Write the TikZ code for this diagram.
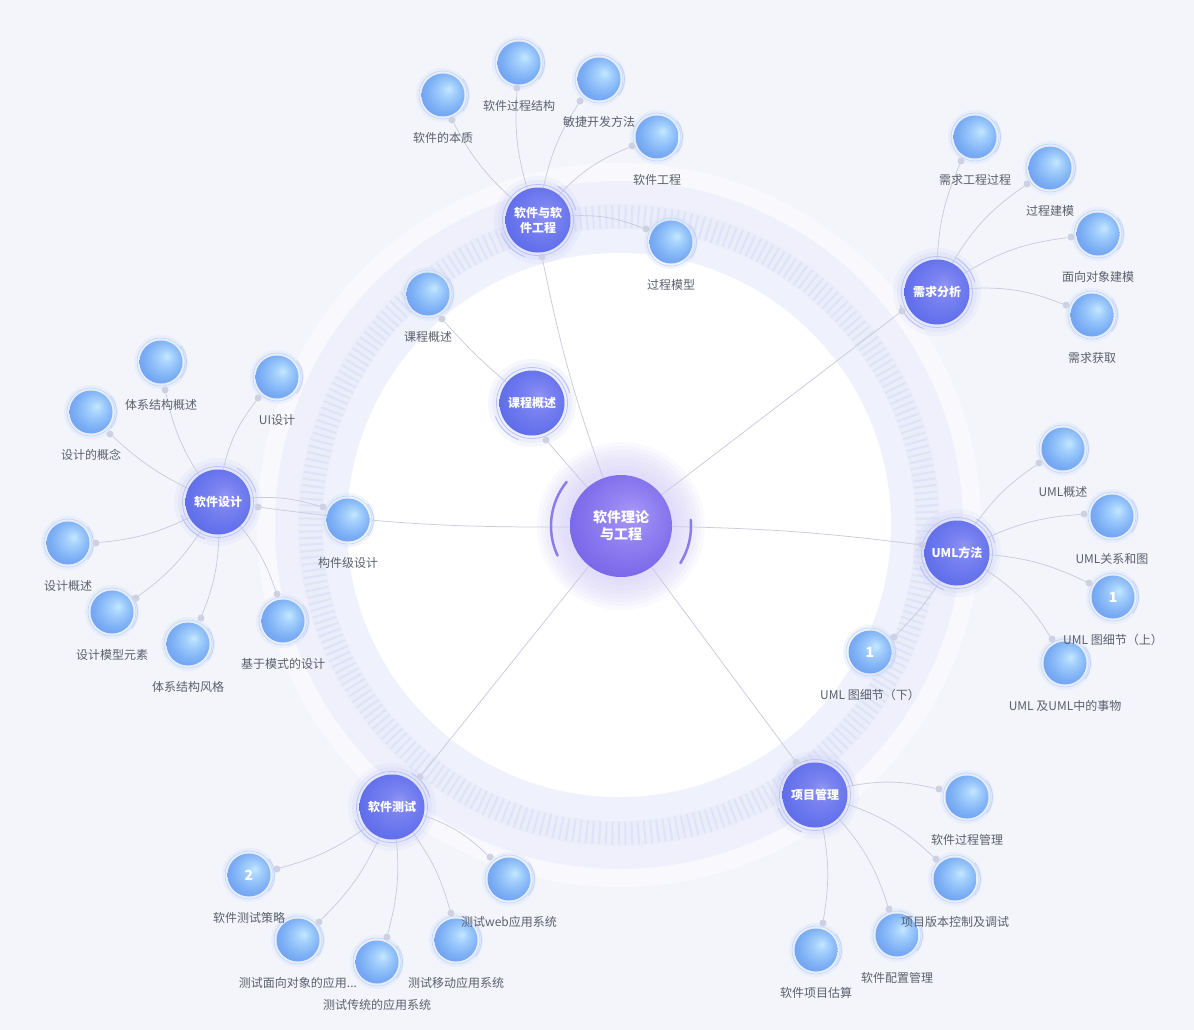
\documentclass[tikz,border=0pt]{standalone}
\usepackage{fontspec}
\newfontfamily\cjk{Noto Sans CJK SC}
\usetikzlibrary{calc}
\definecolor{bgc}{HTML}{F4F5FB}
\definecolor{wband}{HTML}{F9F9FD}
\definecolor{bandout}{HTML}{EFF0FB}
\definecolor{bandtick}{HTML}{EBEDFA}
\definecolor{bandin}{HTML}{EFF1FC}
\definecolor{tickc}{HTML}{E0E3F7}
\definecolor{linkc}{HTML}{C9CCDD}
\definecolor{dotc}{HTML}{CDD1E1}
\definecolor{lblc}{HTML}{5B5F6B}
\definecolor{hubringc}{HTML}{BCC4F6}
\definecolor{hubglowc}{HTML}{C5CBF7}
\definecolor{leafringc}{HTML}{C3D6F8}
\definecolor{leafglowc}{HTML}{D3E2FB}
\definecolor{carcc}{HTML}{8B7CE9}
\definecolor{glowc}{HTML}{D6CFFA}
\definecolor{lf0}{HTML}{C6E8FF}
\definecolor{lf1}{HTML}{A8D3FD}
\definecolor{lf2}{HTML}{80B2F6}
\definecolor{lf3}{HTML}{6A9CF0}
\definecolor{hb0}{HTML}{9095F4}
\definecolor{hb1}{HTML}{7B83F1}
\definecolor{hb2}{HTML}{6673EC}
\definecolor{hb3}{HTML}{5A68E8}
\definecolor{cc0}{HTML}{A899F7}
\definecolor{cc1}{HTML}{9483F2}
\definecolor{cc2}{HTML}{7D6BEA}
\definecolor{cc3}{HTML}{7060E4}
\pgfdeclareradialshading{leafshade}{\pgfpoint{7bp}{7bp}}{color(0bp)=(lf0); color(7bp)=(lf1); color(21bp)=(lf2); color(33bp)=(lf3); color(50bp)=(lf3)}
\pgfdeclareradialshading{hubshade}{\pgfpoint{6bp}{5bp}}{color(0bp)=(hb0); color(9bp)=(hb1); color(23bp)=(hb2); color(33bp)=(hb3); color(50bp)=(hb3)}
\pgfdeclareradialshading{censhade}{\pgfpoint{6bp}{6bp}}{color(0bp)=(cc0); color(11bp)=(cc1); color(26bp)=(cc2); color(34bp)=(cc3); color(50bp)=(cc3)}
\pgfdeclarelayer{bg}
\pgfdeclarelayer{lk}
\pgfdeclarelayer{top}
\pgfsetlayers{bg,lk,main,top}
% hub: name, x, y, text
\newcommand\hubnode[4]{%
  \begin{pgfonlayer}{bg}
    \fill[hubglowc, opacity=0.15] (#2,#3) circle (44pt);
    \fill[hubglowc, opacity=0.2] (#2,#3) circle (40pt);
  \end{pgfonlayer}
  \draw[hubringc, line width=0.8pt] (#2,#3) circle (35.5pt);
  \draw[hubringc, line width=1pt] ([shift={(15:39pt)}]#2,#3) arc[start angle=15, end angle=60, radius=39pt];
  \draw[hubringc, line width=1pt] ([shift={(200:39pt)}]#2,#3) arc[start angle=200, end angle=250, radius=39pt];
  \node[hubn] (#1) at (#2,#3) {#4};
}
% leaf: name, x, y, label, number, dot position, hub, bend
\newcommand\leafnode[8]{%
  \begin{pgfonlayer}{bg}
    \fill[leafglowc, opacity=0.35] (#2,#3) circle (27pt);
  \end{pgfonlayer}
  \draw[leafringc, line width=0.6pt] (#2,#3) circle (24pt);
  \draw[leafringc, line width=0.9pt] ([shift={(-40:25.5pt)}]#2,#3) arc[start angle=-40, end angle=40, radius=25.5pt];
  \node[leafn] (#1) at (#2,#3) {#5};
  \node[dotn] (#1-d) at (#6) {};
  \begin{pgfonlayer}{top}
    \node[lbl] (#1-l) at (#2,{#3+43}) {#4};
  \end{pgfonlayer}
  \begin{pgfonlayer}{lk}
    \draw[link] (#7) to[bend left=#8] (#1-d);
  \end{pgfonlayer}
}
\begin{document}
\begin{tikzpicture}[x=1pt,y=-1pt,
  link/.style={draw=linkc, line width=0.75pt},
  dotn/.style={circle, fill=dotc, inner sep=0pt, minimum size=7pt},
  leafn/.style={circle, inner sep=0pt, minimum size=43pt, shading=leafshade, text=white, font=\cjk\bfseries\fontsize{14}{16}\selectfont},
  hubn/.style={circle, inner sep=0pt, minimum size=65pt, shading=hubshade, text=white, align=center, font=\cjk\bfseries\fontsize{12}{15}\selectfont},
  cenn/.style={circle, inner sep=0pt, minimum size=102pt, shading=censhade, text=white, align=center, font=\cjk\bfseries\fontsize{14}{17}\selectfont},
  lbl/.style={text=lblc, font=\cjk\fontsize{12}{14}\selectfont, inner sep=1pt},
  tickl/.style={draw=tickc, line width=2pt},
  carc/.style={draw=carcc, line width=2.5pt, line cap=round}]
\useasboundingbox (0,0) rectangle (1194,1030);
\coordinate (O) at (619,525);
\begin{pgfonlayer}{bg}
  \fill[bgc] (0,0) rectangle (1194,1030);
  \fill[wband] (O) circle (362pt);
  \fill[bandout] (O) circle (344pt);
  \fill[bandtick] (O) circle (321pt);
  \begin{scope}[shift={(O)}]
    \foreach \a in {0,1.2,...,358.8}
      \draw[tickl] (\a:297pt) -- (\a:320pt);
  \end{scope}
  \fill[bandin] (O) circle (296pt);
  \fill[white] (O) circle (272pt);
  \foreach \r in {84,80,...,56}
    \fill[glowc, opacity=0.12] (621,526) circle (\r pt);
\end{pgfonlayer}
% centre
\draw[carc] ([shift={(141:70pt)}]621,526) arc[start angle=141, end angle=205, radius=70pt];
\draw[carc] ([shift={(-32:70pt)}]621,526) arc[start angle=-32, end angle=5, radius=70pt];
\node[cenn] (C) at (621,526) {软件理论\\与工程};
% hubs
\hubnode{hA}{538}{220}{软件与软\\件工程}
\hubnode{hB}{532}{403}{课程概述}
\hubnode{hC}{937}{292}{需求分析}
\hubnode{hD}{218}{502}{软件设计}
\hubnode{hE}{957}{553}{UML方法}
\hubnode{hF}{815}{795}{项目管理}
\hubnode{hG}{392}{807}{软件测试}
% hub dots for centre links
\node[dotn] (hA-d) at (542,257) {};
\node[dotn] (hB-d) at (546,440) {};
\node[dotn] (hC-d) at (902,311) {};
\node[dotn] (hD-d) at (258,507) {};
\node[dotn] (hE-d) at (922,545) {};
\node[dotn] (hF-d) at (796,762) {};
\node[dotn] (hG-d) at (420,777) {};
\begin{pgfonlayer}{lk}
  \draw[link] (C) to[bend left=4] (hA-d);
  \draw[link] (C) -- (hB-d);
  \draw[link] (C) -- (hC-d);
  \draw[link] (C) to[bend left=4] (hD-d);
  \draw[link] (C) to[bend left=3] (hE-d);
  \draw[link] (C) -- (hF-d);
  \draw[link] (C) -- (hG-d);
\end{pgfonlayer}
% leaves
\leafnode{a1}{443}{95}{软件的本质}{}{452,120}{hA}{10}
\leafnode{a2}{519}{63}{软件过程结构}{}{517,88}{hA}{10}
\leafnode{a3}{599}{79}{敏捷开发方法}{}{580,101}{hA}{10}
\leafnode{a4}{657}{137}{软件工程}{}{632,146}{hA}{12}
\leafnode{a5}{671}{242}{过程模型}{}{646,229}{hA}{12}
\leafnode{b1}{428}{294}{课程概述}{}{442,319}{hB}{4}
\leafnode{c1}{975}{137}{需求工程过程}{}{961,161}{hC}{10}
\leafnode{c2}{1050}{168}{过程建模}{}{1027,184}{hC}{12}
\leafnode{c3}{1098}{234}{面向对象建模}{}{1071,237}{hC}{12}
\leafnode{c4}{1092}{315}{需求获取}{}{1066,305}{hC}{12}
\leafnode{d1}{161}{362}{体系结构概述}{}{165,390}{hD}{10}
\leafnode{d2}{277}{377}{UI设计}{}{258,398}{hD}{12}
\leafnode{d3}{91}{412}{设计的概念}{}{110,434}{hD}{8}
\leafnode{d4}{348}{520}{构件级设计}{}{323,507}{hD}{10}
\leafnode{d5}{68}{543}{设计概述}{}{96,543}{hD}{10}
\leafnode{d6}{112}{612}{设计模型元素}{}{136,598}{hD}{10}
\leafnode{d7}{188}{644}{体系结构风格}{}{201,618}{hD}{10}
\leafnode{d8}{283}{621}{基于模式的设计}{}{277,594}{hD}{10}
\leafnode{e1}{1063}{449}{UML概述}{}{1039,463}{hE}{10}
\leafnode{e2}{1112}{516}{UML关系和图}{}{1084,514}{hE}{10}
\leafnode{e3}{1113}{597}{UML 图细节（上）}{1}{1089,583}{hE}{10}
\leafnode{e4}{1065}{663}{UML 及UML中的事物}{}{1052,639}{hE}{12}
\leafnode{e5}{870}{652}{UML 图细节（下）}{1}{894,637}{hE}{6}
\leafnode{f1}{967}{797}{软件过程管理}{}{939,789}{hF}{12}
\leafnode{f2}{955}{879}{项目版本控制及调试}{}{936,859}{hF}{12}
\leafnode{f3}{897}{935}{软件配置管理}{}{889,909}{hF}{12}
\leafnode{f4}{816}{950}{软件项目估算}{}{823,923}{hF}{10}
\leafnode{g1}{249}{875}{软件测试策略}{2}{277,869}{hG}{10}
\leafnode{g2}{298}{940}{测试面向对象的应用...}{}{319,922}{hG}{10}
\leafnode{g3}{377}{962}{测试传统的应用系统}{}{387,937}{hG}{10}
\leafnode{g4}{456}{940}{测试移动应用系统}{}{451,913}{hG}{10}
\leafnode{g5}{509}{879}{测试web应用系统}{}{490,857}{hG}{12}
\end{tikzpicture}
\end{document}
